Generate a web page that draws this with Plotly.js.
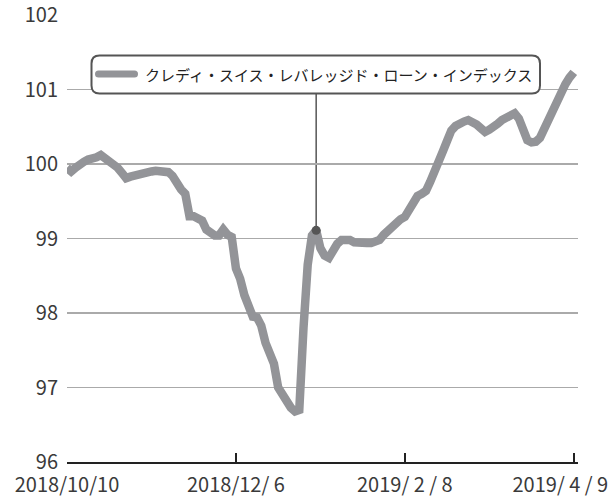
<!DOCTYPE html>
<html>
<head>
<meta charset="utf-8">
<script src="https://cdn.plot.ly/plotly-3.0.1.min.js"></script>
<style>html,body{margin:0;padding:0;background:#fff;}#chart{width:615px;height:499px;}</style>
</head>
<body>
<div id="chart"></div>
<script>
// Credit Suisse Leveraged Loan Index, one value per trading day (2018/10/10 - 2019/4/9)
const seriesName = "クレディ・スイス・レバレッジド・ローン・インデックス";
const indexValues = [
  99.95, 99.90, 99.95, 100.01, 100.03, 100.06, 100.07, 100.09, 100.12, 100.08,
  100.05, 100.00, 99.95, 99.88, 99.81, 99.83, 99.85, 99.87, 99.88, 99.89,
  99.90, 99.91, 99.91, 99.91, 99.89, 99.84, 99.72, 99.66, 99.60, 99.30,
  99.30, 99.28, 99.24, 99.12, 99.06, 99.04, 99.04, 99.12, 99.05, 99.02,
  98.60, 98.46, 98.24, 98.05, 97.95, 97.94, 97.83, 97.60, 97.43, 97.32,
  97.00, 96.90, 96.85, 96.73, 96.68, 96.70, 97.80, 98.65, 99.04, 99.11,
  98.87, 98.77, 98.74, 98.85, 98.93, 98.98, 98.98, 98.98, 98.95, 98.94,
  98.94, 98.94, 98.94, 98.95, 98.98, 99.05, 99.11, 99.18, 99.24, 99.26,
  99.29, 99.37, 99.47, 99.57, 99.60, 99.64, 99.76, 99.88, 100.02, 100.17,
  100.31, 100.45, 100.51, 100.55, 100.57, 100.59, 100.57, 100.53, 100.48, 100.43,
  100.46, 100.49, 100.54, 100.59, 100.63, 100.66, 100.68, 100.61, 100.42, 100.32,
  100.29, 100.30, 100.35, 100.48, 100.61, 100.74, 100.87, 100.97, 101.07, 101.16,
  101.23
];
const tickPositions = [0, 40, 80, 120];
const tickLabels = ["2018/10/10", "2018/12/ 6", "2019/ 2 / 8", "2019/ 4 / 9\u00a0\u00a0\u00a0\u00a0\u00a0\u00a0"];
const yTicks = [96, 97, 98, 99, 100, 101, 102];
const calloutIndex = 59;

const xIdx = indexValues.map((_, i) => i);

const lineColor = "#939498";
const darkGray = "#555555";
const fontFam = "'Noto Sans CJK JP', 'Noto Sans', sans-serif";

const traces = [
  {
    x: xIdx, y: indexValues, type: "scatter", mode: "lines",
    line: {color: lineColor, width: 8.5}, hoverinfo: "skip", showlegend: false
  },
  {
    x: [calloutIndex], y: [indexValues[calloutIndex]], type: "scatter", mode: "markers",
    marker: {color: darkGray, size: 9}, hoverinfo: "skip", showlegend: false
  }
];

// plot area geometry (px)
const L = 67, R = 37, T = 15, B = 37, W = 615 - L - R, H = 499 - T - B;
const px = v => (v - L) / W;
const py = v => (499 - B - v) / H;

function roundRect(x0, y0, x1, y1, r) {
  const rx = r / W, ry = r / H;
  const X0 = px(x0), X1 = px(x1), YT = py(y0), YB = py(y1);
  return `M${X0+rx},${YT} L${X1-rx},${YT} Q${X1},${YT} ${X1},${YT-ry} L${X1},${YB+ry} Q${X1},${YB} ${X1-rx},${YB} L${X0+rx},${YB} Q${X0},${YB} ${X0},${YB+ry} L${X0},${YT-ry} Q${X0},${YT} ${X0+rx},${YT} Z`;
}

const layout = {
  width: 615, height: 499,
  margin: {l: L, r: R, t: T, b: B, pad: 0},
  paper_bgcolor: "#fff", plot_bgcolor: "#fff",
  font: {family: fontFam, color: "#333", size: 20},
  showlegend: false,
  xaxis: {
    range: [0, 121], tickvals: tickPositions, ticktext: tickLabels,
    showgrid: false, zeroline: false, showline: true, linecolor: "#222", linewidth: 2,
    ticks: "inside", ticklen: 9, tickwidth: 2, tickcolor: "#222",
    ticklabeloverflow: "allow", ticklabelstandoff: 4,
    tickfont: {family: fontFam, size: 20, color: "#3a3a3a"}, fixedrange: true
  },
  yaxis: {
    range: [96, 102], tickvals: yTicks, ticktext: yTicks.map(String),
    showgrid: true, gridcolor: "#aaaaaa", gridwidth: 1.2, zeroline: false, showline: false,
    ticks: "", ticklabelstandoff: 8, ticklabeloverflow: "allow",
    tickfont: {family: fontFam, size: 20, color: "#3a3a3a"}, fixedrange: true
  },
  shapes: [
    {type: "line", xref: "x", yref: "y", x0: calloutIndex, x1: calloutIndex,
     y0: indexValues[calloutIndex], y1: 100.95, line: {color: darkGray, width: 1.5}, layer: "below"},
    {type: "path", xref: "paper", yref: "paper", path: roundRect(91.5, 55.5, 540, 93.5, 8),
     fillcolor: "#fff", line: {color: darkGray, width: 2}},
    {type: "path", xref: "paper", yref: "paper", path: roundRect(95, 70.5, 138, 77.5, 3.5),
     fillcolor: lineColor, line: {width: 0}}
  ],
  annotations: [
    {xref: "paper", yref: "paper", x: px(143), y: py(74.5), xanchor: "left", yanchor: "middle",
     text: seriesName, showarrow: false, font: {family: fontFam, size: 15, color: "#222"}}
  ]
};

Plotly.newPlot("chart", traces, layout, {displayModeBar: false, staticPlot: true});
</script>
</body>
</html>
